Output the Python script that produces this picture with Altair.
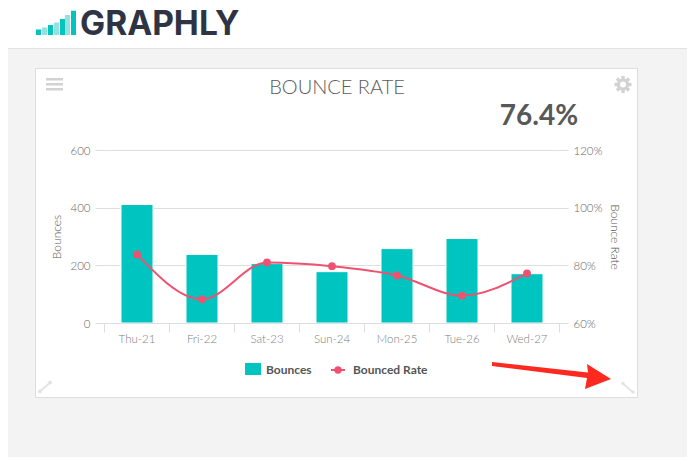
import altair as alt
import pandas as pd

days = ["Thu-21", "Fri-22", "Sat-23", "Sun-24", "Mon-25", "Tue-26", "Wed-27"]
bounces = [411, 238, 206, 178, 258, 293, 171]
bounced_rate = [83.8, 68.2, 81.0, 79.7, 76.5, 69.5, 77.2]
bounce_ticks = [0, 200, 400, 600]
rate_ticks = [60, 80, 100, 120]

TEAL = "#00c4c0"
PINK = "#ee5270"
LIGHT_TEAL = "#93e2de"
GRID = "#dedede"
PAGE = "#f3f3f3"
ICON = "#d2d2d2"
LEFT, TOP = 96, 142   # padding: plot origin inside the svg
OX, OY = 8 + LEFT, 8 + TOP  # plot origin on the page

df = pd.DataFrame({"day": days, "bounces": bounces, "rate": bounced_rate})
one = alt.Data(values=[{"a": 1}])


def rect(x0, y0, x1, y1, color):
    return alt.Chart(one).mark_rect(color=color, opacity=1).encode(
        x=alt.value(x0 - OX), x2=alt.value(x1 - OX),
        y=alt.value(y0 - OY), y2=alt.value(y1 - OY))


def label(x, y, text, size, color, font="Lato", weight=400, align="left"):
    return alt.Chart(one).mark_text(
        text=text, fontSize=size, color=color, font=font, fontWeight=weight,
        align=align, baseline="alphabetic"
    ).encode(x=alt.value(x - OX), y=alt.value(y - OY))


def shape(d, color, width=0):
    kw = {"stroke": color, "strokeWidth": width} if width else {"strokeWidth": 0}
    return alt.Chart(one).mark_point(
        shape=d, size=4, filled=True, fill=color, opacity=1, **kw
    ).encode(x=alt.value(-OX), y=alt.value(-OY))


def dot(x, y, size, color):
    return alt.Chart(one).mark_point(filled=True, size=size, color=color, opacity=1).encode(
        x=alt.value(x - OX), y=alt.value(y - OY))


# Page furniture: everything round the white card is painted in grey
furniture = [
    rect(8, 49, 36, 457, PAGE), rect(637, 49, 687, 457, PAGE),
    rect(8, 49, 687, 68, PAGE), rect(8, 398, 687, 457, PAGE),
    rect(8, 48, 687, 49, "#e2e2e2"),
    rect(35, 68, 638, 69, GRID), rect(35, 397, 638, 398, GRID),
    rect(35, 68, 36, 398, GRID), rect(637, 68, 638, 398, GRID),
]

logo_x = [36, 42, 48, 54, 60, 65, 71]
logo_top = [29.5, 27.5, 25, 22.5, 19, 15, 10.7]
logo = [
    rect(x, t, x + 5, 35, TEAL if i % 2 == 0 else LIGHT_TEAL)
    for i, (x, t) in enumerate(zip(logo_x, logo_top))
]
logo.append(label(80, 34.5, "GRAPHLY", 33.5, "#2e3444", font="Inter", weight=700))

icons = [
    rect(46, 78, 63, 80.5, ICON), rect(46, 83, 63, 85.5, ICON),
    rect(46, 88, 63, 90.5, ICON),
    shape("M623 76 L623 93 M614.5 84.5 L631.5 84.5 M617 78.5 L629 90.5 M629 78.5 L617 90.5", ICON, 3.4),
    dot(623, 84.5, 150, ICON),
    dot(623, 84.5, 36, "white"),
    shape("M41 390.5 L49 383.5", "#e3e3e3", 2),
    dot(40, 391.5, 16, "#e3e3e3"), dot(50, 382.5, 16, "#e3e3e3"),
    shape("M624 384.5 L632 391.5", "#e3e3e3", 2),
    dot(623, 383.5, 12, "#e3e3e3"), dot(633, 392, 12, "#e3e3e3"),
    shape("M492 362 L588 372.5 L587 364 L611 379 L585 389 L587 378 L492 366 Z", "#ff2a1f"),
]

texts = [
    label(337, 94, "BOUNCE RATE", 20, "#5c5c5c", weight=300, align="center"),
    label(539, 125, "76.4%", 28, "#585858", weight=700, align="center"),
]

legend = [
    rect(245, 363, 261, 375, TEAL),
    label(266, 374, "Bounces", 12, "#555555", weight=700),
    rect(331, 369, 345, 371, PINK),
    dot(338, 370, 55, PINK),
    label(353, 374, "Bounced Rate", 12, "#555555", weight=700),
]

base = alt.Chart(df).encode(
    x=alt.X("day:N", sort=days, title=None, scale=alt.Scale(paddingInner=0, paddingOuter=0),
            axis=alt.Axis(labelAngle=0, tickBand="extent", tickColor=GRID, tickSize=9,
                          domainColor=GRID, labelColor="#808080", labelFont="Lato",
                          labelFontSize=11.5, labelFontWeight=300, labelPadding=1, zindex=1))
)

bars = base.mark_bar(size=32, color=TEAL, stroke="white", strokeWidth=1, xOffset=0.5).encode(
    y=alt.Y("bounces:Q", title="Bounces", scale=alt.Scale(domain=[0, 600], nice=False),
            axis=alt.Axis(values=bounce_ticks, orient="left", grid=True, gridColor=GRID,
                          domain=False, tickColor=GRID, tickSize=9, labelPadding=5, labelOffset=1,
                          labelColor="#666666", labelFont="Lato", labelFontSize=11.5,
                          labelFontWeight=300, titleFont="Lato", titleFontSize=12,
                          titleFontWeight=300, titleColor="#555555", titlePadding=6))
)

rate_scale = alt.Scale(domain=[60, 120], nice=False)
rate_axis = alt.Axis(values=rate_ticks, orient="right", grid=False, domain=False,
                     tickColor=GRID, tickSize=9, labelPadding=5, labelOffset=1,
                     labelExpr="datum.value + '%'",
                     labelColor="#666666", labelFont="Lato", labelFontSize=11.5,
                     labelFontWeight=300, titleFont="Lato", titleFontSize=12,
                     titleFontWeight=300, titleColor="#555555", titlePadding=6)

line = base.mark_line(color=PINK, strokeWidth=2, interpolate="monotone", xOffset=0.5).encode(
    y=alt.Y("rate:Q", title="Bounce Rate", scale=rate_scale, axis=rate_axis))
dots = base.mark_point(filled=True, size=60, color=PINK, opacity=1, xOffset=0.5).encode(
    y=alt.Y("rate:Q", scale=rate_scale, axis=None))

chart = alt.layer(
    *furniture, *logo, *icons, *texts, *legend, bars, line, dots
).resolve_scale(y="independent").properties(
    width=455, height=173, background="white",
    padding={"left": LEFT, "top": TOP, "right": 128, "bottom": 134},
    autosize=alt.AutoSizeParams(type="none"),
).configure_view(stroke=None)

chart.save("out.html", embed_options={"renderer": "svg", "actions": False})
